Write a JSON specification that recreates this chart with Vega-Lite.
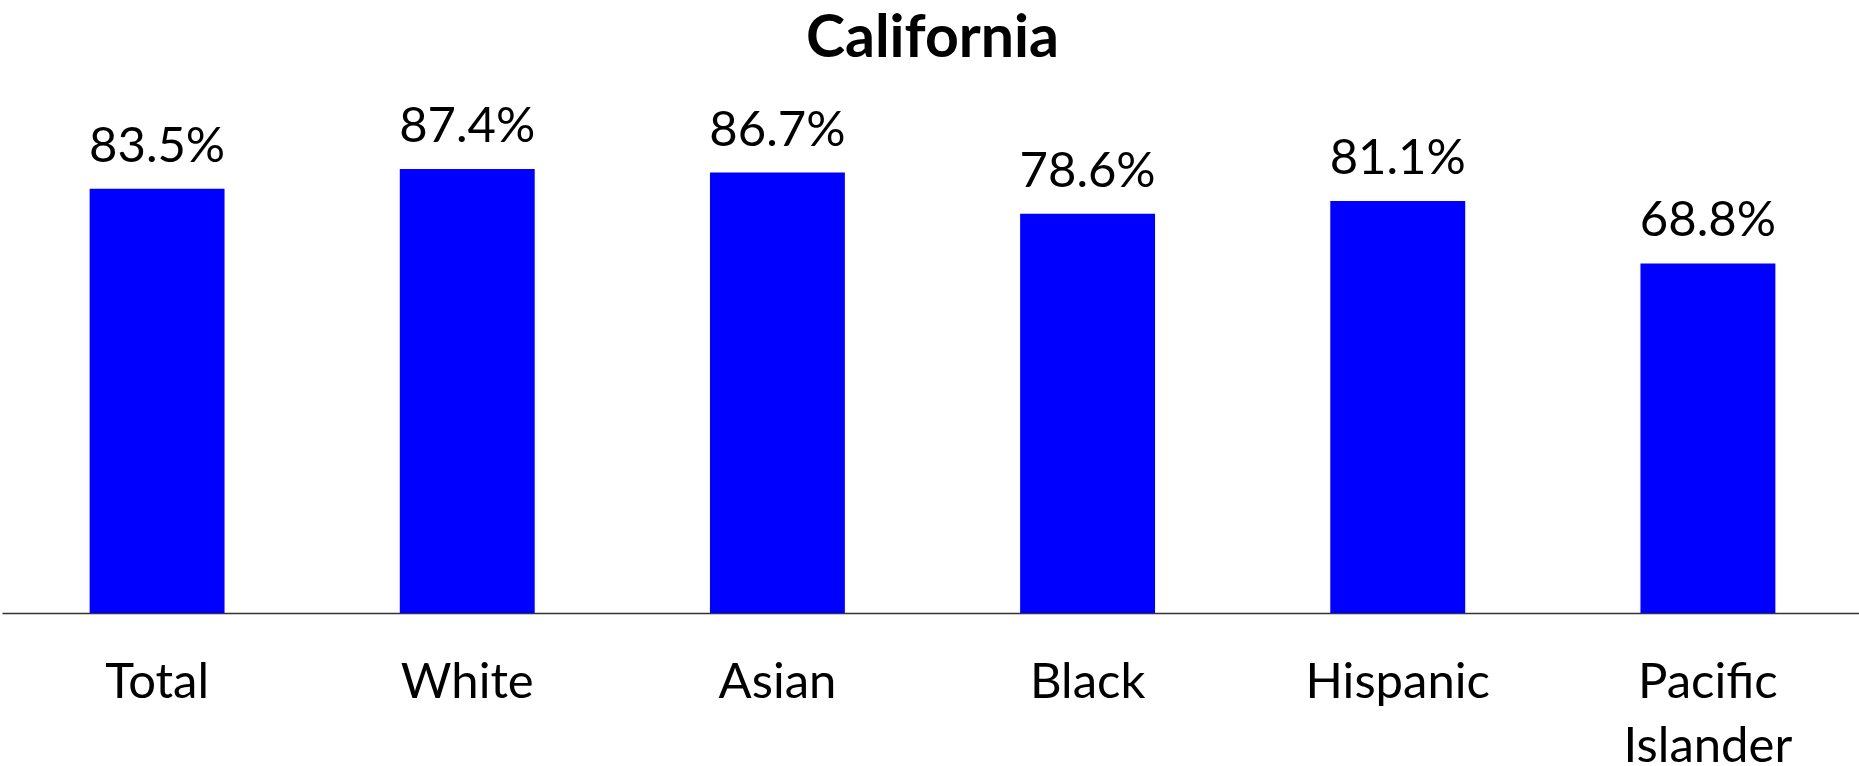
{
  "$schema": "https://vega.github.io/schema/vega-lite/v6.json",
  "width": 1861,
  "height": 508,
  "autosize": {"type": "none"},
  "padding": {"left": 2, "top": 105, "right": 0, "bottom": 153},
  "background": "white",
  "title": {
    "text": "California",
    "font": "Lato",
    "fontWeight": "bold",
    "fontSize": 59,
    "color": "black",
    "anchor": "middle",
    "offset": 34
  },
  "data": {
    "values": [
      {"group": "Total", "rate": 0.835},
      {"group": "White", "rate": 0.874},
      {"group": "Asian", "rate": 0.867},
      {"group": "Black", "rate": 0.786},
      {"group": "Hispanic", "rate": 0.811},
      {"group": "Pacific Islander", "rate": 0.688}
    ]
  },
  "encoding": {
    "x": {
      "field": "group",
      "type": "nominal",
      "sort": null,
      "scale": {"paddingInner": 0.565, "paddingOuter": 0.2825},
      "axis": {
        "title": null,
        "labelAngle": 0,
        "labelFont": "Lato",
        "labelFontSize": 49,
        "labelColor": "black",
        "labelBaseline": "top",
        "labelPadding": 45,
        "labelLineHeight": 64,
        "labelLimit": 0,
        "labelExpr": "datum.label == 'Pacific Islander' ? ['Pacific', 'Islander'] : datum.label",
        "ticks": false,
        "tickSize": 0,
        "domainColor": "#333333",
        "domainWidth": 1.5,
        "grid": false
      }
    },
    "y": {
      "field": "rate",
      "type": "quantitative",
      "scale": {"domain": [0, 1], "nice": false, "zero": true},
      "axis": null
    }
  },
  "layer": [
    {"mark": {"type": "bar", "color": "#0000FF"}},
    {
      "mark": {
        "type": "text",
        "font": "Lato",
        "fontSize": 49,
        "color": "black",
        "baseline": "alphabetic",
        "dy": -27
      },
      "encoding": {"text": {"field": "rate", "type": "quantitative", "format": ".1%"}}
    }
  ],
  "config": {"view": {"stroke": null}}
}
